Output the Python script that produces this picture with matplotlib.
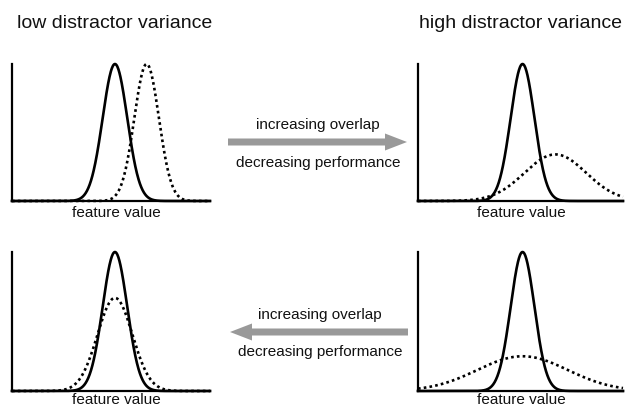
import numpy as np
import matplotlib
matplotlib.use('Agg')
import matplotlib.pyplot as plt

plt.rcParams['font.family'] = ['Liberation Sans', 'DejaVu Sans']

# panel order: top-left, top-right, bottom-left, bottom-right
# target (solid) distribution
target_mean = [5.2, 5.1, 5.2, 5.1]
target_sd = [0.62, 0.58, 0.62, 0.58]
target_peak = [1.0, 1.0, 1.0, 1.0]
# distractor (dotted) distribution
distr_mean = [6.8, 6.7, 5.2, 5.1]
distr_sd = [0.62, 1.5, 0.88, 2.2]
distr_peak = [1.0, 0.34, 0.67, 0.25]

titles = ['low distractor variance', 'high distractor variance']
arrow_top = 'increasing overlap'
arrow_bottom = 'decreasing performance'
xlabel = 'feature value'

W, H = 625, 410
fig = plt.figure(figsize=(W / 100, H / 100), dpi=100)

# background axes in pixel coordinates for text and arrows
bg = fig.add_axes([0, 0, 1, 1])
bg.set_xlim(0, W)
bg.set_ylim(H, 0)
bg.axis('off')

# panel boxes in pixels: (left, top, right, bottom)
boxes = [(12, 65, 210, 202), (418, 65, 623, 202),
         (12, 253, 210, 392), (418, 253, 623, 392)]
label_x = [116, 521, 116, 521]
label_y = [213, 213, 400, 400]

x = np.linspace(0, 10, 600)


def gauss(x, mu, sd, peak):
    return peak * np.exp(-0.5 * ((x - mu) / sd) ** 2)


for i, (l, t, r, b) in enumerate(boxes):
    ax = fig.add_axes([l / W, 1 - b / H, (r - l) / W, (b - t) / H])
    ax.plot(x, gauss(x, distr_mean[i], distr_sd[i], distr_peak[i]),
            color='black', lw=1.9, linestyle=(0, (1, 1.2)), clip_on=False)
    ax.plot(x, gauss(x, target_mean[i], target_sd[i], target_peak[i]),
            color='black', lw=1.9, clip_on=False)
    ax.set_xlim(0, 10)
    ax.set_ylim(0, 1)
    ax.set_xticks([])
    ax.set_yticks([])
    for s in ['top', 'right']:
        ax.spines[s].set_visible(False)
    for s in ['left', 'bottom']:
        ax.spines[s].set_linewidth(1.6)
    ax.patch.set_alpha(0)
    bg.text(label_x[i], label_y[i], xlabel, ha='center', va='center',
            fontsize=11, color='#111111')

bg.text(17, 23, titles[0], ha='left', va='center', fontsize=14, color='#111111')
bg.text(622, 23, titles[1], ha='right', va='center', fontsize=14, color='#111111')

grey = '#999999'
# top arrow pointing right
bg.arrow(228, 143, 157, 0, width=7, head_width=17, head_length=22,
         length_includes_head=False, color=grey, lw=0)
bg.text(318, 125, arrow_top, ha='center', va='center', fontsize=11, color='#111111')
bg.text(318, 163, arrow_bottom, ha='center', va='center', fontsize=11, color='#111111')

# bottom arrow pointing left
bg.arrow(408, 333, -156, 0, width=7, head_width=17, head_length=22,
         length_includes_head=False, color=grey, lw=0)
bg.text(320, 315, arrow_top, ha='center', va='center', fontsize=11, color='#111111')
bg.text(320, 352, arrow_bottom, ha='center', va='center', fontsize=11, color='#111111')

fig.savefig('out.png', dpi=100)
